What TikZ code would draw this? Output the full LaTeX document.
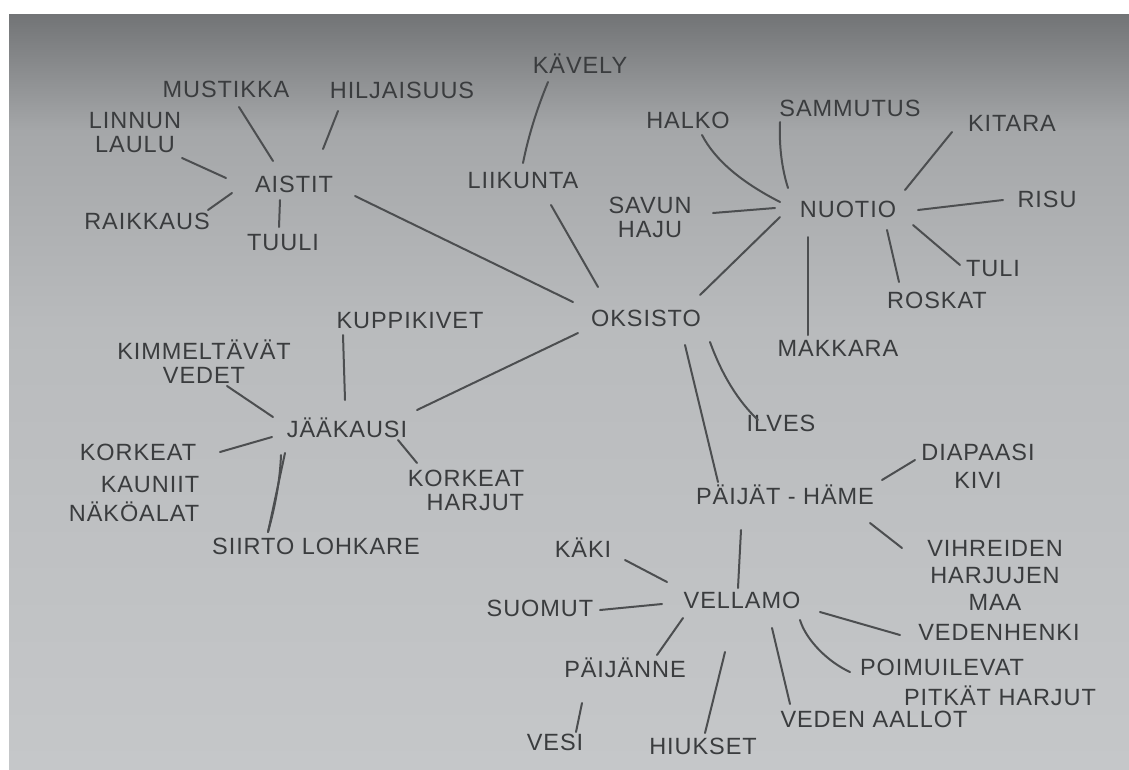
\documentclass[tikz,border=0pt]{standalone}
\usepackage{fontspec}
\newfontfamily\hand[LetterSpace=4]{Liberation Sans}
\usetikzlibrary{calc}
\definecolor{ink}{HTML}{3A3C3E}
\definecolor{pen}{HTML}{4C4E50}
\definecolor{pA}{HTML}{727476}
\definecolor{pB}{HTML}{A5A7A9}
\definecolor{pC}{HTML}{B9BBBD}
\definecolor{pD}{HTML}{C5C7C9}
\begin{document}
\begin{tikzpicture}[x=1pt,y=-1pt,
  w/.style={font=\hand\fontsize{23.5}{24}\selectfont, text=ink, inner sep=0pt, align=center},
  ln/.style={draw=pen, line width=2pt, line cap=round}]
\useasboundingbox (0,0) rectangle (1129,769);
\fill[white] (0,0) rectangle (1129,769);
\shade[top color=pA,bottom color=pB] (9,14) rectangle (1129,131);
\shade[top color=pB,bottom color=pC] (9,130) rectangle (1129,331);
\shade[top color=pC,bottom color=pD] (9,330) rectangle (1129,769);

% nodes
\node[w] (aistit) at (294,184) {AISTIT};
\node[w] (mustikka) at (226,89) {MUSTIKKA};
\node[w] (hiljaisuus) at (402,90) {HILJAISUUS};
\node[w] (linnun) at (135,133) {LINNUN\\LAULU};
\node[w] (raikkaus) at (147,221) {RAIKKAUS};
\node[w] (tuuli) at (283,243) {TUULI};
\node[w] (kavely) at (580,64) {KÄVELY};
\node[w] (liikunta) at (523,181) {LIIKUNTA};
\node[w] (savun) at (650,217) {SAVUN\\HAJU};
\node[w] (halko) at (688,120) {HALKO};
\node[w] (sammutus) at (850,108) {SAMMUTUS};
\node[w] (kitara) at (1012,123) {KITARA};
\node[w] (nuotio) at (848,209) {NUOTIO};
\node[w] (risu) at (1047,199) {RISU};
\node[w] (tuli) at (993,269) {TULI};
\node[w] (roskat) at (937,300) {ROSKAT};
\node[w] (makkara) at (838,348) {MAKKARA};
\node[w] (oksisto) at (646,318) {OKSISTO};
\node[w] (kuppikivet) at (410,321) {KUPPIKIVET};
\node[w] (kimmel) at (204,362) {KIMMELTÄVÄT\\VEDET};
\node[w] (jaakausi) at (347,428) {JÄÄKAUSI};
\node[w] (korkeat) at (138,452) {KORKEAT};
\node[w,align=right,font=\hand\fontsize{23.5}{29}\selectfont] (kauniit) at (134,499) {KAUNIIT\\NÄKÖALAT};
\node[w,align=right] (harjut) at (466,490) {KORKEAT\\HARJUT};
\node[w] (siirto) at (316,546) {SIIRTO LOHKARE};
\node[w] (ilves) at (781,423) {ILVES};
\node[w] (paijat) at (785,495) {PÄIJÄT - HÄME};
\node[w,font=\hand\fontsize{23.5}{28}\selectfont] (diapaasi) at (978,466) {DIAPAASI\\KIVI};
\node[w,font=\hand\fontsize{23.5}{27}\selectfont] (vihreiden) at (995,575) {VIHREIDEN\\HARJUJEN\\MAA};
\node[w] (vellamo) at (742,600) {VELLAMO};
\node[w] (kaki) at (583,548) {KÄKI};
\node[w] (suomut) at (540,608) {SUOMUT};
\node[w] (paijanne) at (625,668) {PÄIJÄNNE};
\node[w] (vesi) at (555,742) {VESI};
\node[w] (hiukset) at (703,746) {HIUKSET};
\node[w] (veden) at (874,719) {VEDEN AALLOT};
\node[w,align=left,font=\hand\fontsize{23.5}{30}\selectfont] (poimu) at (978,682) {POIMUILEVAT\\\hspace*{44pt}PITKÄT HARJUT};
\node[w] (vedenhenki) at (999,632) {VEDENHENKI};

% connectors
\draw[ln] ($(aistit)+(-21,-23)$) -- ($(mustikka)+(13,18)$);
\draw[ln] ($(aistit)+(29,-35)$) -- ($(hiljaisuus)+(-64,21)$);
\draw[ln] ($(aistit)+(-68,-6)$) -- ($(linnun)+(47,25)$);
\draw[ln] ($(aistit)+(-62,9)$) -- ($(raikkaus)+(61,-11)$);
\draw[ln] ($(aistit)+(-14,16)$) -- ($(tuuli)+(-4,-16)$);
\draw[ln] ($(aistit)+(61,12)$) -- ($(oksisto)+(-73,-16)$);
\draw[ln] ($(kavely)+(-32,18)$) .. controls ($(kavely)+(-44,47)$) and ($(liikunta)+(5,-43)$) .. ($(liikunta)+(0,-18)$);
\draw[ln] ($(liikunta)+(28,24)$) -- ($(oksisto)+(-48,-31)$);
\draw[ln] ($(oksisto)+(54,-23)$) -- ($(nuotio)+(-68,8)$);
\draw[ln] ($(nuotio)+(-68,-7)$) .. controls ($(nuotio)+(-107,-27)$) and ($(halko)+(27,40)$) .. ($(halko)+(14,15)$);
\draw[ln] ($(nuotio)+(-60,-21)$) .. controls ($(nuotio)+(-66,-40)$) and ($(sammutus)+(-71,39)$) .. ($(sammutus)+(-70,14)$);
\draw[ln] ($(nuotio)+(57,-19)$) -- ($(kitara)+(-60,9)$);
\draw[ln] ($(nuotio)+(70,1)$) -- ($(risu)+(-44,1)$);
\draw[ln] ($(nuotio)+(65,16)$) -- ($(tuli)+(-33,-4)$);
\draw[ln] ($(nuotio)+(39,21)$) -- ($(roskat)+(-38,-18)$);
\draw[ln] ($(nuotio)+(-40,28)$) -- ($(makkara)+(-30,-13)$);
\draw[ln] ($(nuotio)+(-73,-1)$) -- ($(savun)+(63,-4)$);
\draw[ln] ($(oksisto)+(39,27)$) -- ($(paijat)+(-67,-13)$);
\draw[ln] ($(oksisto)+(64,24)$) .. controls ($(oksisto)+(76,57)$) and ($(ilves)+(-43,-22)$) .. ($(ilves)+(-23,-3)$);
\draw[ln] ($(oksisto)+(-68,15)$) -- ($(jaakausi)+(70,-18)$);
\draw[ln] ($(jaakausi)+(-2,-28)$) -- ($(kuppikivet)+(-67,14)$);
\draw[ln] ($(jaakausi)+(-74,-11)$) -- ($(kimmel)+(23,24)$);
\draw[ln] ($(jaakausi)+(-75,9)$) -- ($(korkeat)+(82,0)$);
\draw[ln] ($(jaakausi)+(51,12)$) -- ($(harjut)+(-49,-27)$);
\draw[ln] ($(jaakausi)+(-62,25)$) -- ($(siirto)+(-48,-14)$);
\draw[ln] ($(jaakausi)+(-66,27)$) .. controls ($(jaakausi)+(-67,53)$) and ($(siirto)+(-41,-39)$) .. ($(siirto)+(-48,-14)$);
\draw[ln] ($(paijat)+(97,-15)$) -- ($(diapaasi)+(-63,-6)$);
\draw[ln] ($(paijat)+(85,28)$) -- ($(vihreiden)+(-93,-27)$);
\draw[ln] ($(paijat)+(-44,35)$) -- ($(vellamo)+(-4,-12)$);
\draw[ln] ($(kaki)+(42,12)$) -- ($(vellamo)+(-75,-18)$);
\draw[ln] ($(suomut)+(60,2)$) -- ($(vellamo)+(-80,4)$);
\draw[ln] ($(vellamo)+(-59,18)$) -- ($(paijanne)+(32,-13)$);
\draw[ln] ($(paijanne)+(-43,35)$) -- ($(vesi)+(21,-10)$);
\draw[ln] ($(vellamo)+(-17,52)$) -- ($(hiukset)+(2,-13)$);
\draw[ln] ($(vellamo)+(30,28)$) -- ($(veden)+(-84,-15)$);
\draw[ln] ($(vellamo)+(58,20)$) .. controls ($(vellamo)+(64,40)$) and ($(poimu)+(-150,-20)$) .. ($(poimu)+(-128,-10)$);
\draw[ln] ($(vellamo)+(78,12)$) -- ($(vedenhenki)+(-99,3)$);
\end{tikzpicture}
\end{document}
